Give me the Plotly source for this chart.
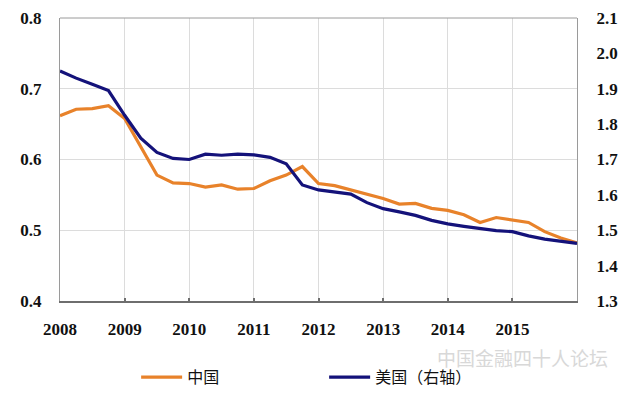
import plotly.graph_objects as go

quarters = [2008 + i / 4 for i in range(33)]
china = [0.662, 0.671, 0.672, 0.676, 0.658, 0.617, 0.578, 0.567, 0.566, 0.561,
         0.564, 0.558, 0.559, 0.570, 0.578, 0.590, 0.566, 0.563, 0.557, 0.550,
         0.545, 0.537, 0.538, 0.531, 0.528, 0.522, 0.511, 0.518, 0.515, 0.511,
         0.498, 0.489, 0.482]
usa = [1.950, 1.930, 1.913, 1.895, 1.825, 1.760, 1.720, 1.703, 1.700, 1.715,
       1.712, 1.715, 1.713, 1.706, 1.688, 1.628, 1.614, 1.607, 1.602, 1.578,
       1.561, 1.552, 1.542, 1.528, 1.518, 1.511, 1.504, 1.499, 1.496, 1.484,
       1.475, 1.470, 1.463]
year_ticks = [2008, 2009, 2010, 2011, 2012, 2013, 2014, 2015, 2016]
year_labels = ["2008", "2009", "2010", "2011", "2012", "2013", "2014", "2015", ""]

serif = "Times New Roman, Liberation Serif, serif"
cjk = "Noto Sans CJK SC"

fig = go.Figure()
fig.add_trace(go.Scatter(x=quarters, y=china, name="中国", mode="lines",
                         line=dict(color="#E8822A", width=3.2), yaxis="y"))
fig.add_trace(go.Scatter(x=quarters, y=usa, name="美国（右轴）", mode="lines",
                         line=dict(color="#14127A", width=3.2), yaxis="y2"))

# page has an 8px body margin, so the figure is drawn 8px smaller and offset
fig.update_layout(
    width=625, height=383,
    margin=dict(l=52, r=56, t=10, b=90, autoexpand=False),
    paper_bgcolor="white", plot_bgcolor="white",
    showlegend=True,
    legend=dict(orientation="h", xref="container", yref="container",
                x=0.205, xanchor="left", y=0.036, yanchor="middle",
                font=dict(family=cjk, size=16, color="#111"),
                itemwidth=41,
                entrywidth=132, entrywidthmode="pixels", bgcolor="rgba(0,0,0,0)"),
    xaxis=dict(range=[2008, 2016], tickvals=year_ticks, ticktext=year_labels,
               showgrid=True, gridcolor="#dcdcdc", gridwidth=1,
               showline=True, linecolor="#6e6e6e", linewidth=2,
               ticks="inside", ticklen=3, tickcolor="#6e6e6e", tickwidth=1.5,
               ticklabelstandoff=12,
               tickfont=dict(family=serif, size=17, color="#111", weight="bold"),
               zeroline=False, fixedrange=True),
    yaxis=dict(range=[0.4, 0.8], dtick=0.1, tick0=0.4, tickformat=".1f",
               showgrid=True, gridcolor="#dcdcdc", gridwidth=1,
               showline=True, linecolor="#9a9a9a", linewidth=1,
               ticks="", ticklabelstandoff=14,
               tickfont=dict(family=serif, size=17, color="#111", weight="bold"),
               zeroline=False),
    yaxis2=dict(range=[1.3, 2.1], dtick=0.1, tick0=1.3, tickformat=".1f",
                overlaying="y", side="right", showgrid=False,
                showline=True, linecolor="#9a9a9a", linewidth=1,
                ticks="", ticklabelstandoff=15,
                tickfont=dict(family=serif, size=17, color="#111", weight="bold"),
                zeroline=False),
    shapes=[dict(type="line", xref="paper", yref="paper", x0=0, x1=1, y0=1, y1=1,
                 line=dict(color="#9a9a9a", width=1))],
    annotations=[dict(text="中国金融四十人论坛", xref="paper", yref="paper",
                      x=0.8955, y=-0.198, xanchor="center", yanchor="middle",
                      showarrow=False,
                      font=dict(family=cjk, size=19, color="#d8d8d8"))],
)

fig.write_html("out.html")
